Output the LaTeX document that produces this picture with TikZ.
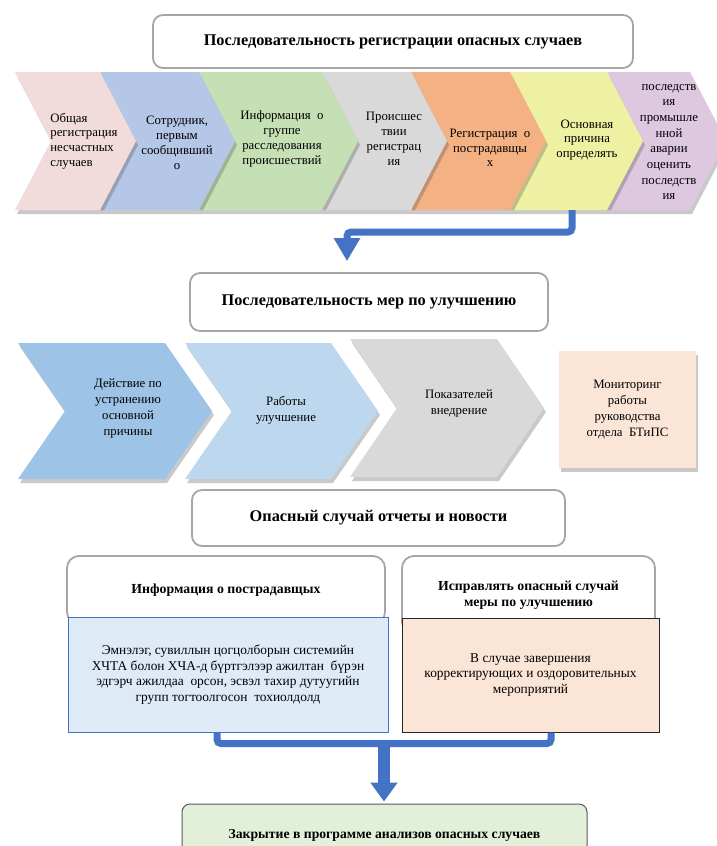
\documentclass[tikz,border=0pt]{standalone}
\usepackage{fontspec}
\setmainfont{Liberation Serif}
\usetikzlibrary{shadows,arrows.meta,calc}
\definecolor{cpink}{HTML}{F2DCDB}
\definecolor{cblue}{HTML}{B4C7E7}
\definecolor{cgreen}{HTML}{C5E0B4}
\definecolor{cgray}{HTML}{D9D9D9}
\definecolor{corange}{HTML}{F4B183}
\definecolor{cyellow}{HTML}{EDF1A1}
\definecolor{cpurple}{HTML}{DEC8E0}
\definecolor{cdblue}{HTML}{9DC3E6}
\definecolor{clblue}{HTML}{BDD7EE}
\definecolor{cpeach}{HTML}{FBE5D6}
\definecolor{cpaleblue}{HTML}{DEEBF7}
\definecolor{cpalegreen}{HTML}{E2F0D9}
\definecolor{carrow}{HTML}{4472C4}
\definecolor{cborder}{HTML}{A6A6A6}
\newcommand\chevronshape[6]{%
  \fill[#6, chshadow] (#1,#3) -- (#2,#3) -- ({#2+#5},{(#3+#4)/2}) -- (#2,#4) -- (#1,#4) -- ({#1+#5},{(#3+#4)/2}) -- cycle;}
\tikzset{
  chshadow/.style={drop shadow={shadow xshift=2pt, shadow yshift=-4pt, opacity=0.3, fill=black!70}},
  chtext/.style={font=\fontsize{12.8}{14.8}\selectfont, align=center, inner sep=0pt},
  rowtwotext/.style={font=\fontsize{12.8}{16}\selectfont, align=center, inner sep=0pt},
  titlebox/.style={draw=cborder, line width=1.8pt, rounded corners=10pt, fill=white,
     font=\fontsize{16.3}{19}\selectfont\bfseries, inner sep=0pt},
  headbox/.style={draw=cborder, line width=1.8pt, rounded corners=12pt, fill=white,
     font=\fontsize{13.8}{15.5}\selectfont\bfseries, inner sep=0pt, align=center},
  bodytext/.style={font=\fontsize{13.4}{15.5}\selectfont, align=center, inner sep=0pt},
  flowline/.style={draw=carrow, line width=7pt, rounded corners=4pt},
}
\begin{document}
\begin{tikzpicture}[x=1pt, y=-1pt]
\useasboundingbox (0,0) rectangle (717,846);
% ---------- title 1
\node[titlebox, minimum width=480pt, minimum height=53pt] (t1) at (393,41.5)
  {Последовательность регистрации опасных случаев};
% ---------- row 1 chevrons (right to left)
\chevronshape{607}{690}{72}{210}{36}{cpurple}
\chevronshape{510}{607}{72}{210}{36}{cyellow}
\chevronshape{411}{510}{72}{210}{36}{corange}
\chevronshape{322}{411}{72}{210}{36}{cgray}
\chevronshape{199}{322}{72}{210}{36}{cgreen}
\chevronshape{100}{199}{72}{210}{36}{cblue}
\chevronshape{15}{100}{72}{210}{36}{cpink}
\node[chtext, align=left] (n1) at (84,141) {Общая\\регистрация\\несчастных\\случаев};
\node[chtext] (n2) at (177,143) {Сотрудник,\\первым\\сообщивший\\о};
\node[chtext] (n3) at (282,139) {Информация\ \ о\\группе\\расследования\\происшествий};
\node[chtext] (n4) at (394,139) {Происшес\\твии\\регистрац\\ия};
\node[chtext] (n5) at (490,148) {Регистрация\ \ о\\пострадавщы\\х};
\node[chtext] (n6) at (587,140) {Основная\\причина\\определять};
\node[chtext, font=\fontsize{12.8}{15.7}\selectfont] (n7) at (669,142)
  {последств\\ия\\промышле\\нной\\аварии\\оценить\\последств\\ия};
\coordinate (ch6) at (572,210);
% ---------- title 2
\node[titlebox, minimum width=358pt, minimum height=58pt] (t2) at (369,302)
  {Последовательность мер по улучшению};
\draw[flowline, -{Triangle[width=25pt,length=23pt]}]
  (ch6) -- ++(0,22) -| ([xshift=-22pt,yshift=11pt]t2.north);
% ---------- row 2
\chevronshape{350}{497}{339}{477}{47}{cgray}
\chevronshape{185}{331}{343}{479}{47}{clblue}
\chevronshape{18}{165}{343}{479}{47}{cdblue}
\node[rowtwotext] (m1) at (128,408) {Действие по\\устранению\\основной\\причины};
\node[rowtwotext] (m2) at (286,410) {Работы\\улучшение};
\node[rowtwotext] (m3) at (459,403) {Показателей\\внедрение};
\node[rowtwotext, fill=cpeach, chshadow, minimum width=137pt, minimum height=117pt] (m4)
  at (627.5,409.5) {Мониторинг\\работы\\руководства\\отдела\ \ БТиПС};
% ---------- title 3
\node[titlebox, minimum width=373pt, minimum height=56pt] (t3) at (378.5,518)
  {Опасный случай отчеты и новости};
% ---------- headers
\node[headbox, minimum width=318pt, minimum height=68pt] (h1) at (226,590)
  {Информация о пострадавщых};
\node[headbox, minimum width=253pt, minimum height=78pt] (h2) at (528.5,595)
  {Исправлять опасный случай\\меры по улучшению};
% ---------- body boxes
\node[bodytext, draw=carrow, line width=1pt, fill=cpaleblue, minimum width=320pt, minimum height=115pt] (b1)
  at (228,674.5) {Эмнэлэг, сувиллын цогцолборын системийн\\ХЧТА болон ХЧА-д бүртгэлээр ажилтан\ \ бүрэн\\эдгэрч ажилдаа\ \ орсон, эсвэл тахир дутуугийн\\групп тогтоолгосон\ \ тохиолдолд};
\node[bodytext, draw=black!85, line width=1pt, fill=cpeach, minimum width=257pt, minimum height=114pt] (b2)
  at (530.5,675) {В случае завершения\\корректирующих и оздоровительных\\мероприятий};
% ---------- final box
\node[draw=black!65, line width=1pt, rounded corners=8pt, fill=cpalegreen, minimum width=405pt, minimum height=62pt,
  font=\fontsize{13.7}{15}\selectfont\bfseries, inner sep=0pt] (g) at (384.5,835)
  {Закрытие в программе анализов опасных случаев};
% ---------- bottom connectors
\coordinate (junc) at (384,743);
\draw[flowline] ([xshift=-11pt]b1.south) -- ++(0,11) -| ([xshift=20.5pt]b2.south);
\draw[draw=carrow, line width=12pt, -{Triangle[width=26pt,length=19pt]}, shorten >=2pt]
  ([yshift=2pt]junc) -- (junc |- g.north);
\end{tikzpicture}
\end{document}
